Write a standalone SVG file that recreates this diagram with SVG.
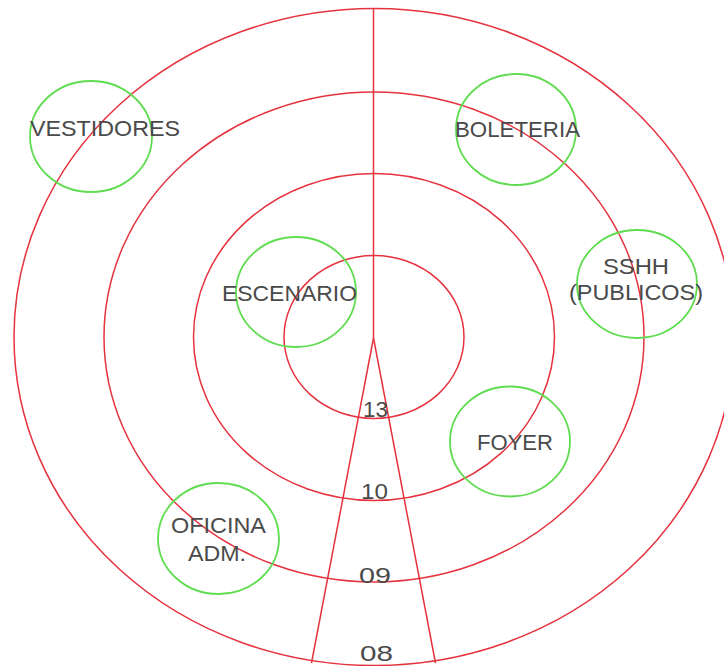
<svg xmlns="http://www.w3.org/2000/svg" width="724" height="666" viewBox="0 0 724 666">
<style>
.ring{fill:none;stroke:#e5323e;stroke-width:1.5}
.line{fill:none;stroke:#e5323e;stroke-width:1.5}
.zone{fill:none;stroke:#5fdc50;stroke-width:1.8}
.lbl{font-family:"Liberation Sans",Arial,sans-serif;font-size:22px;fill:#4a4a4a;text-anchor:start}
</style>
<rect width="724" height="666" fill="#ffffff"/>
<g id="rings">
<ellipse class="ring" cx="374" cy="337" rx="90" ry="81.5"/>
<ellipse class="ring" cx="374" cy="337" rx="180.5" ry="163.5"/>
<ellipse class="ring" cx="374" cy="337" rx="270" ry="245"/>
<ellipse class="ring" cx="374" cy="337" rx="360" ry="328.5"/>
</g>
<g id="connectors">
<line class="line" x1="373.5" y1="8" x2="373.5" y2="338"/>
<line class="line" x1="373.5" y1="338" x2="311.5" y2="663"/>
<line class="line" x1="373.5" y1="338" x2="435.5" y2="663"/>
</g>
<g id="vestidores">
<ellipse class="zone" cx="91" cy="136.5" rx="61" ry="55.5"/>
<text class="lbl" x="30" y="136" textLength="150" lengthAdjust="spacingAndGlyphs">VESTIDORES</text>
</g>
<g id="boleteria">
<ellipse class="zone" cx="516" cy="129.5" rx="60" ry="55.5"/>
<text class="lbl" x="455" y="137" textLength="125" lengthAdjust="spacingAndGlyphs">BOLETERIA</text>
</g>
<g id="sshh">
<ellipse class="zone" cx="637" cy="284" rx="60" ry="54"/>
<text class="lbl" x="603" y="274" textLength="66" lengthAdjust="spacingAndGlyphs">SSHH</text>
<text class="lbl" x="569" y="300" textLength="134" lengthAdjust="spacingAndGlyphs">(PUBLICOS)</text>
</g>
<g id="escenario">
<ellipse class="zone" cx="296" cy="292" rx="60" ry="55"/>
<text class="lbl" x="222" y="301" textLength="135" lengthAdjust="spacingAndGlyphs">ESCENARIO</text>
</g>
<g id="foyer">
<ellipse class="zone" cx="510" cy="441.5" rx="60" ry="55"/>
<text class="lbl" x="477" y="450" textLength="76" lengthAdjust="spacingAndGlyphs">FOYER</text>
</g>
<g id="oficina">
<ellipse class="zone" cx="218.5" cy="538.5" rx="60.5" ry="55.5"/>
<text class="lbl" x="171" y="533" textLength="95" lengthAdjust="spacingAndGlyphs">OFICINA</text>
<text class="lbl" x="188" y="561" textLength="58" lengthAdjust="spacingAndGlyphs">ADM.</text>
</g>
<g id="levels">
<text class="lbl" x="363" y="417" textLength="25" lengthAdjust="spacingAndGlyphs">13</text>
<text class="lbl" x="361" y="499" textLength="27" lengthAdjust="spacingAndGlyphs">10</text>
<text class="lbl" x="359" y="583" textLength="32" lengthAdjust="spacingAndGlyphs">09</text>
<text class="lbl" x="360" y="661" textLength="33" lengthAdjust="spacingAndGlyphs">08</text>
</g>
</svg>
